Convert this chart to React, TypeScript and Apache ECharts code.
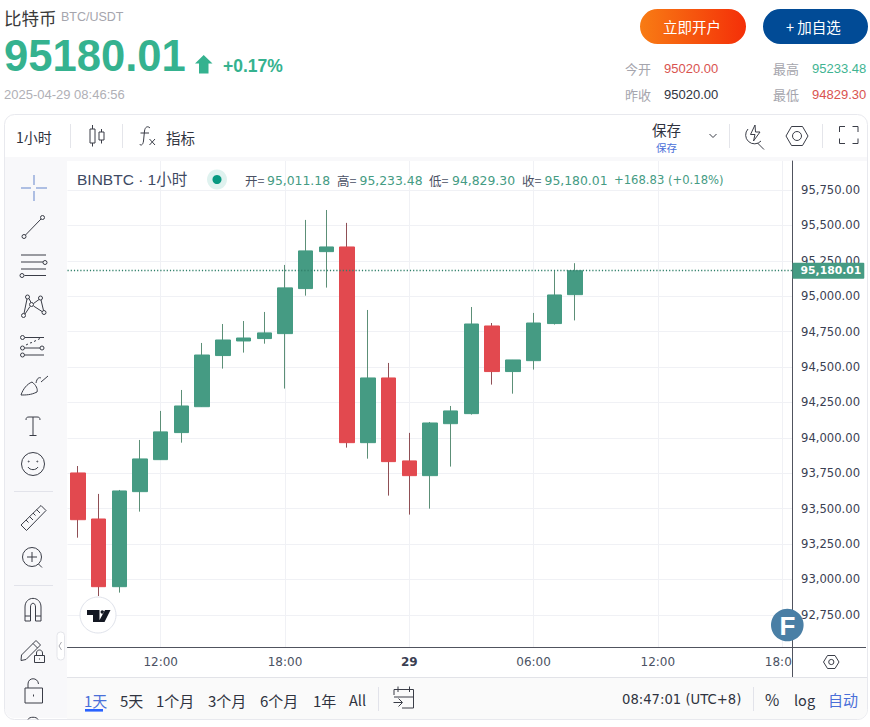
import React, { useEffect, useRef } from "react";
import * as echarts from "echarts";

const hours = [
  "08:00","09:00","10:00","11:00","12:00","13:00","14:00","15:00","16:00","17:00","18:00","19:00","20:00","21:00","22:00","23:00",
  "29","01:00","02:00","03:00","04:00","05:00","06:00","07:00","08:00","09:00","10:00","11:00","12:00","13:00","14:00","15:00","16:00","17:00","18:00",
];
const timeLabels = ["12:00", "18:00", "29", "06:00"];
const opens = [93752,93427,92949,93620,93846,94037,94220,94581,94684,94701,94736,95054,95315,95348,93966,94423,93837,93733,94100,94171,94790,94468,94545,94807,95011.18];
const closes = [93422,92949,93625,93851,94042,94225,94585,94691,94705,94741,95059,95320,95348,93966,94423,93832,93733,94105,94190,94804,94468,94550,94811,95009,95180.01];
const lows = [93295,92883,92907,93479,93846,93966,94220,94489,94602,94665,94348,95004,95061,93931,93853,93592,93458,93500,93797,94164,94376,94312,94482,94800,94829.3];
const highs = [93801,93604,93632,93985,94190,94338,94670,94804,94825,94889,95221,95539,95609,95518,94903,94529,94035,94112,94225,94924,94811,94550,94882,95179,95233.48];
const priceTicks = [92750,93000,93250,93500,93750,94000,94250,94500,94750,95000,95250,95500,95750];
const lastPrice = 95180.01;

const CJK = '"Noto Sans CJK SC","Noto Sans",sans-serif';
const ARIAL = '"Liberation Sans","Noto Sans CJK SC",sans-serif';
const DEJAVU = '"DejaVu Sans",sans-serif';
const UP = "#459b83";
const DOWN = "#e2494f";
const BRAND = "#35b28f";
const GRAY = "#a5a5ad";
const INK = "#2f3340";
const ACCENT = "#4a6fd8";
const LINE = "#50535e";

const circle = (cx: number, cy: number, r: number) =>
  `M${cx - r} ${cy}a${r} ${r} 0 1 0 ${2 * r} 0a${r} ${r} 0 1 0 ${-2 * r} 0Z`;

const icons: Record<string, string> = {
  iCandle: "M92.5 125V129M92.5 143V146.5M90 129H95V143H90ZM101.5 129V132M101.5 140V143.5M99 132H104V140H99Z",
  iFx: "M150 128C147.5 125.5 145 127 144.5 131L143.5 141C143 145 141 146 139.5 144M140.5 133H149M149.5 139L155 145M155 139L149.5 145",
  iChevron: "M709.5 134L713 137.5L716.5 134",
  iBolt: "M748 129A8.5 8.5 0 1 0 761 141M757.5 143L764 149.5M755 125L750.5 134.5H755L753.5 141L760 132H755.5Z",
  iHex: "M786 136L791.5 126.5H802.5L808 136L802.5 145.5H791.5Z" + circle(797, 136, 4.5),
  iFull: "M839.5 132V126.5H845M852.5 126.5H858V132M858 138.5V143.5H852.5M845 143.5H839.5V138.5",
  iTrend: circle(42.5, 217.5, 2) + circle(24, 236.5, 2) + "M41 219L25.5 235",
  iFib: "M21 255H46M21 262H43" + circle(45, 262.5, 2) + "M21 269H46M24.5 275.5H46" + circle(22, 275.5, 2),
  iPattern: circle(27.5, 297, 2) + circle(40.5, 298, 2) + circle(23.5, 315.5, 2) + circle(44, 312.5, 2) + circle(31.5, 304.5, 2) + "M27 299L24 313.5M29 298.5L31 302.5M33.5 303.5L39 299.5M41 300L43.5 310.5M33.5 306L42 311.5M30 306.5L25 314",
  iForecast: circle(22.5, 337.5, 2) + "M25 337.5H44" + circle(22.5, 348, 2) + "M25 348H40" + circle(42, 348, 2) + circle(22.5, 355, 2) + "M25 355H44M26 345L28 344M30 343L32 342.5M34 341.5L36 340.5M38 339.5L40 338.5",
  iBrush: "M21 395C23 389 27 384 32 382C36 385 38 389 37 392C31 395 26 395 21 395ZM36 383C37 378 39 377 41 378M41 382L48 376",
  iText: "M26 420C26 417.5 27 417 29 417H37C39 417 40 417.5 40 420M33 417V435M29.5 435.5H36.5",
  iSmile: circle(33, 464, 11.5) + "M28 467C30 470.5 36 470.5 38 467" + circle(28.7, 461.5, 0.5) + circle(37.3, 461.5, 0.5),
  iRuler: "M21 525L41 505.5L46 510.5L26.5 530.5ZM26 520L28.5 522.5M29.5 516.5L33 520M33 513L35.5 515.5M36.5 509.5L40 513",
  iZoom: circle(32, 557, 9.5) + "M27 557H37M32 552V562M38.5 564L42 567.5",
  iMagnet: "M25 621V607C25 595.5 41 595.5 41 607V621H35.5V607C35.5 602 30.5 602 30.5 607V621ZM25 616H30.5M35.5 616H41",
  iPencil: "M21.5 655L36 640.5L40.5 645L26 659.5L21 660.5ZM33 643.5L37.5 648",
  iLock1: "M34.5 655.5H44.5V662.5H34.5ZM36.5 655.5V653C36.5 649 42.5 649 42.5 653V655.5M39.5 658.5V659.5",
  iOpenLock: "M25 688H42.5V703H25ZM28 688V684C28 677 38 677 38.5 684M33.5 694.5V696.5",
  iClipped: "M28 719.5C29 716.5 37 716.5 38 719.5",
  iChevL: "M61.5 642L59 646L61.5 650",
  iCal: "M394 695V689.5H413.5V708H402M398 686.5V692M409.5 686.5V692M394 697H413.5M393.5 702.5H402M398.5 698.5L402.5 702.5L398.5 706.5",
  iGear: "M823.5 662L827.5 655.5H835L839 662L835 668.5H827.5Z" + circle(831.3, 662, 2.6),
  iTV: "M87 610H99.5V622H93V615H87ZM105 610H110.5L104.5 622H98.5Z" + circle(102.3, 612, 1.8),
};
Object.keys(icons).forEach((k) => {
  echarts.graphic.registerShape(k, echarts.graphic.extendPath(icons[k], {}));
});

const txt = (text: string, x: number, y: number, fontSize: number, fill: string, fontFamily = CJK, extra: any = {}) => ({
  type: "text",
  z: 20,
  silent: true,
  style: { text, x, y, fontSize, fill, fontFamily, textVerticalAlign: "middle", verticalAlign: "middle", ...extra },
});
const icon = (name: string, stroke = "#3a3d47", lineWidth = 1) => ({
  type: name,
  z: 20,
  silent: true,
  style: { fill: "none", stroke, lineWidth },
});
const seg = (x1: number, y1: number, x2: number, y2: number, stroke: string, z = 20, lineWidth = 1) => ({
  type: "line",
  z,
  silent: true,
  shape: { x1, y1, x2, y2 },
  style: { stroke, lineWidth },
});
const box = (x: number, y: number, width: number, height: number, fill: any, z = -5, r: any = 0, stroke?: string) => ({
  type: "rect",
  z,
  silent: true,
  shape: { x, y, width, height, r },
  style: { fill, stroke },
});

const graphic: any[] = [
  // panel
  box(4.5, 114.5, 863, 605, "#ffffff", -10, 10, "#e8e9ee"),
  box(5, 157, 862, 4, "#f8f8fa", -9),
  box(5, 157, 62, 561, "#f8f8fa", -9, [0, 0, 0, 9]),
  box(67, 678, 800, 41, "#fafafa", -9, [0, 0, 9, 0]),
  seg(67, 677.5, 867, 677.5, "#e2e3e8", -8),
  // header
  txt("比特币", 4, 17, 17.5, "#3a3a3a"),
  txt("BTC/USDT", 61, 17, 12.5, GRAY, ARIAL),
  txt("95180.01", 4, 56, 43.6, BRAND, ARIAL, { fontWeight: "bold" }),
  { type: "polygon", z: 20, silent: true, shape: { points: [[203.7, 55], [212.5, 63.5], [208.5, 63.5], [208.5, 73.5], [199, 73.5], [199, 63.5], [195, 63.5]] }, style: { fill: BRAND } },
  txt("+0.17%", 223, 66, 17.5, BRAND, ARIAL, { fontWeight: "bold" }),
  txt("2025-04-29 08:46:56", 4, 94, 13, "#b0b0b6", ARIAL),
  box(640, 9, 106, 35, new echarts.graphic.LinearGradient(0, 0, 1, 0, [{ offset: 0, color: "#f87c14" }, { offset: 1, color: "#f42f08" }]), 19, 17.5),
  box(763, 9, 105, 35, "#014b96", 19, 17.5),
  txt("立即开户", 663, 26.5, 14.5, "#ffffff"),
  txt("+ 加自选", 786, 26.5, 14.5, "#ffffff"),
  txt("今开", 625, 68, 13, GRAY),
  txt("95020.00", 664, 68, 13, "#d9534f", ARIAL),
  txt("最高", 773, 68, 13, GRAY),
  txt("95233.48", 812, 68, 13, "#3fb492", ARIAL),
  txt("昨收", 625, 94, 13, GRAY),
  txt("95020.00", 664, 94, 13, INK, ARIAL),
  txt("最低", 773, 94, 13, GRAY),
  txt("94829.30", 812, 94, 13, "#d9534f", ARIAL),
  // top toolbar
  txt("1小时", 16, 137, 14, INK),
  seg(70.5, 124, 70.5, 148, "#e4e5ea"),
  icon("iCandle"),
  seg(122.5, 124, 122.5, 148, "#e4e5ea"),
  icon("iFx"),
  txt("指标", 166, 137, 14.5, INK),
  txt("保存", 652, 129.5, 14.5, INK),
  txt("保存", 656, 147.5, 10.5, ACCENT),
  icon("iChevron"),
  seg(729.5, 124, 729.5, 148, "#e4e5ea"),
  icon("iBolt"),
  icon("iHex"),
  seg(822.5, 124, 822.5, 148, "#e4e5ea"),
  icon("iFull"),
  // left toolbar
  seg(21, 188, 31, 188, "#8fa6d8", 20, 1.4),
  seg(36, 188, 47, 188, "#8fa6d8", 20, 1.4),
  seg(34, 175, 34, 185, "#8fa6d8", 20, 1.4),
  seg(34, 191, 34, 201, "#8fa6d8", 20, 1.4),
  icon("iTrend"), icon("iFib"), icon("iPattern"), icon("iForecast"), icon("iBrush"), icon("iText"), icon("iSmile"),
  seg(14, 491.5, 53, 491.5, "#e2e3ea"),
  icon("iRuler"), icon("iZoom"),
  seg(14, 585.5, 53, 585.5, "#e2e3ea"),
  icon("iMagnet"), icon("iPencil"), icon("iLock1"), icon("iOpenLock"), icon("iClipped"),
  box(57, 632, 7.5, 28, "#ffffff", 20, 3.5, "#e4e5ea"),
  icon("iChevL", "#a8a8b0"),
  // legend
  txt("BINBTC · 1小时", 77, 179, 15.5, "#3e4a63", ARIAL),
  { type: "circle", z: 20, silent: true, shape: { cx: 217, cy: 179.5, r: 10 }, style: { fill: "rgba(8,153,129,0.13)" } },
  { type: "circle", z: 20, silent: true, shape: { cx: 217, cy: 179.5, r: 4.5 }, style: { fill: "#089981" } },
  txt("开=", 245, 180, 12.5, "#4a5063"),
  txt("95,011.18", 267, 180, 12.4, UP, DEJAVU),
  txt("高=", 337, 180, 12.5, "#4a5063"),
  txt("95,233.48", 359.5, 180, 12.4, UP, DEJAVU),
  txt("低=", 429, 180, 12.5, "#4a5063"),
  txt("94,829.30", 452, 180, 12.4, UP, DEJAVU),
  txt("收=", 522, 180, 12.5, "#4a5063"),
  txt("95,180.01", 544.5, 180, 12.4, UP, DEJAVU),
  txt("+168.83 (+0.18%)", 614, 180, 11.6, UP, DEJAVU),
  // axis extensions and corner mask
  box(793, 650, 74, 27, "#ffffff", 15),
  seg(792.5, 647, 792.5, 677, LINE, 16),
  seg(792.5, 647.5, 866, 647.5, LINE, 16),
  icon("iGear"),
  // overlays
  { type: "circle", z: 20, silent: true, shape: { cx: 98, cy: 615, r: 18 }, style: { fill: "#ffffff", stroke: "#e0e3eb", lineWidth: 1 } },
  { type: "iTV", z: 21, silent: true, style: { fill: "#131722" } },
  { type: "circle", z: 20, silent: true, shape: { cx: 787.3, cy: 625, r: 16.3 }, style: { fill: "#4a7fa5" } },
  txt("F", 779.5, 625.5, 26, "#ffffff", ARIAL, { fontWeight: "bold" }),
  // bottom bar
  txt("1天", 84, 700, 15, ACCENT),
  box(85, 709, 18, 2.6, "#2962ff", 20),
  txt("5天", 120, 700, 15, INK),
  txt("1个月", 156, 700, 15, INK),
  txt("3个月", 208, 700, 15, INK),
  txt("6个月", 260, 700, 15, INK),
  txt("1年", 313, 700, 15, INK),
  txt("All", 349, 699, 14.5, INK),
  seg(378.5, 687, 378.5, 711, "#e2e3ea"),
  icon("iCal"),
  txt("08:47:01 (UTC+8)", 622, 699, 13.2, INK, DEJAVU),
  seg(753.5, 687, 753.5, 711, "#e2e3ea"),
  txt("%", 765, 699, 15.5, INK),
  txt("log", 794, 699, 14.5, INK),
  txt("自动", 828, 699, 15, ACCENT),
];

export default function App() {
  const ref = useRef<HTMLDivElement>(null);
  useEffect(() => {
    document.body.style.margin = "0";
    const chart = echarts.init(ref.current!, undefined, { renderer: "svg" });
    const wicks = opens.map((o, i) => [o, closes[i], lows[i], highs[i]]);
    const bodies = opens.map((o, i) => [o, closes[i], Math.min(o, closes[i]), Math.max(o, closes[i])]);
    chart.setOption({
      animation: false,
      backgroundColor: "#ffffff",
      tooltip: { show: false },
      graphic,
      grid: { left: 67.5, right: 77.5, top: 161, bottom: 80 },
      xAxis: {
        type: "category",
        data: hours,
        boundaryGap: true,
        axisLine: { show: true, lineStyle: { color: LINE, width: 1 } },
        axisTick: { show: false },
        axisLabel: {
          interval: (_: number, v: string) => timeLabels.includes(v),
          color: "#4b5263",
          fontFamily: DEJAVU,
          fontSize: 12,
          margin: 9,
          hideOverlap: false,
          formatter: (v: string) => (v === "29" ? `{b|${v}}` : v),
          rich: { b: { fontWeight: "bold", fontFamily: DEJAVU, fontSize: 12, color: "#3a4052" } },
        },
        splitLine: {
          show: true,
          alignWithLabel: true,
          interval: (_: number, v: string) => timeLabels.includes(v),
          lineStyle: { color: "#f0f1f5", width: 1 },
        },
      },
      yAxis: {
        type: "value",
        position: "right",
        min: 92523,
        max: 95955,
        scale: true,
        axisLine: { show: true, lineStyle: { color: LINE, width: 1 } },
        axisTick: { show: false, customValues: priceTicks },
        axisLabel: {
          customValues: priceTicks,
          color: "#3a4052",
          fontFamily: DEJAVU,
          fontSize: 11.6,
          margin: 8.5,
          formatter: (v: number) => v.toLocaleString("en-US", { minimumFractionDigits: 2, maximumFractionDigits: 2 }),
        },
        splitLine: { show: true, lineStyle: { color: "#f0f1f5", width: 1 } },
      },
      series: [
        {
          type: "candlestick",
          silent: true,
          barWidth: 1,
          data: wicks,
          itemStyle: { color: "#5c8f77", color0: "#8f4f55", borderColor: "#5c8f77", borderColor0: "#8f4f55", borderWidth: 1 },
        },
        {
          type: "candlestick",
          silent: true,
          barWidth: 15,
          clip: false,
          data: bodies,
          itemStyle: { color: UP, color0: DOWN, borderColor: UP, borderColor0: DOWN, borderWidth: 1 },
          markLine: {
            silent: true,
            symbol: "none",
            animation: false,
            lineStyle: { type: [1.2, 2], color: "#2f7f69", width: 1.3 },
            label: {
              show: true,
              position: "end",
              distance: 0,
              formatter: lastPrice.toLocaleString("en-US", { minimumFractionDigits: 2 }),
              backgroundColor: UP,
              color: "#ffffff",
              fontFamily: DEJAVU,
              fontWeight: "bold",
              fontSize: 10.8,
              padding: [3, 3, 2, 8],
              borderRadius: 1,
            },
            data: [{ yAxis: lastPrice }],
          },
        },
      ],
    });
    return () => chart.dispose();
  }, []);
  return <div ref={ref} style={{ position: "absolute", left: 0, top: 0, width: 870, height: 727, overflow: "hidden" }} />;
}
